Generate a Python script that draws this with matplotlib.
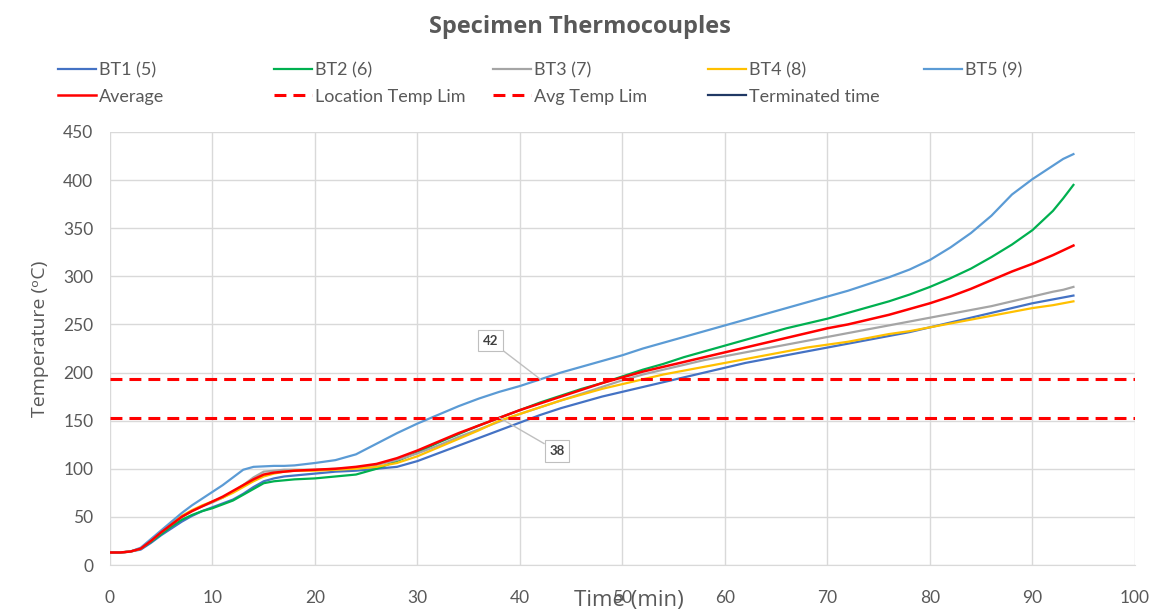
import numpy as np
import matplotlib.pyplot as plt

plt.rcParams['font.family'] = ['Lato', 'DejaVu Sans']

# time in minutes
t = [0, 1, 2, 3, 4, 5, 6, 7, 8, 9, 10, 11, 12, 13, 14, 15, 16, 17, 18,
     20, 22, 24, 26, 28, 30, 32, 34, 36, 38, 40, 42, 44, 46, 48, 50, 52, 54, 56, 58,
     60, 62, 64, 66, 68, 70, 72, 74, 76, 78, 80, 82, 84, 86, 88, 90, 92, 93, 94]

bt1 = [13, 13, 14, 16, 23, 31, 38, 45, 51, 56, 60, 64, 68, 74, 81, 87, 90, 92, 93,
       95, 97, 98, 100, 102, 108, 116, 124, 132, 140, 148, 156, 163, 169, 175, 180,
       185, 190, 195, 200, 205, 210, 214, 218, 222, 226, 230, 234, 238, 242, 247,
       252, 257, 262, 267, 272, 276, 278, 280]
bt2 = [13, 13, 14, 17, 24, 32, 40, 47, 52, 56, 59, 63, 67, 73, 79, 85, 87, 88, 89,
       90, 92, 94, 100, 108, 117, 127, 136, 145, 153, 161, 169, 176, 183, 189, 196,
       203, 209, 216, 222, 228, 234, 240, 246, 251, 256, 262, 268, 274, 281, 289,
       298, 308, 320, 333, 348, 368, 381, 395]
bt3 = [13, 13, 14, 17, 25, 34, 42, 50, 56, 61, 65, 70, 76, 83, 91, 97, 98, 99, 99,
       99, 100, 101, 104, 109, 116, 124, 133, 141, 149, 157, 164, 171, 178, 185, 192,
       198, 203, 208, 213, 217, 221, 225, 229, 233, 237, 241, 245, 249, 253, 257,
       261, 265, 269, 274, 279, 284, 286, 289]
bt4 = [13, 13, 14, 17, 26, 35, 43, 51, 57, 62, 66, 70, 75, 81, 87, 92, 95, 97, 98,
       98, 99, 100, 102, 106, 113, 122, 131, 140, 150, 157, 164, 171, 177, 183, 188,
       193, 198, 202, 206, 210, 214, 218, 222, 226, 229, 232, 236, 240, 243, 247,
       251, 255, 259, 263, 267, 270, 272, 274]
bt5 = [13, 13, 14, 18, 27, 36, 45, 54, 62, 69, 76, 83, 91, 99, 102, 102.5, 103, 103, 103.5,
       106, 109, 115, 126, 137, 147, 156, 165, 173, 180, 186, 193, 200, 206, 212, 218,
       225, 231, 237, 243, 249, 255, 261, 267, 273, 279, 285, 292, 299, 307, 317,
       330, 345, 363, 385, 401, 415, 422, 427]
avg = [13, 13, 14, 17, 25, 34, 42, 50, 56, 61, 66, 71, 77, 83, 89, 94, 96, 97, 98,
       99, 100, 102, 105, 111, 119, 128, 137, 145, 153, 161, 168, 175, 182, 189, 195,
       201, 206, 211, 216, 221, 226, 231, 236, 241, 246, 250, 255, 260, 266, 272,
       279, 287, 296, 305, 313, 322, 327, 332]

loc_lim = 193
avg_lim = 153
loc_cross = 42
avg_cross = 38

fig = plt.figure(figsize=(11.6, 6.15), dpi=100)
ax = fig.add_axes([0.0948, 0.0813, 0.8836, 0.7041])

h1, = ax.plot(t, bt1, color='#4472C4', lw=1.6, label='BT1 (5)')
h2, = ax.plot(t, bt2, color='#00B050', lw=1.6, label='BT2 (6)')
h3, = ax.plot(t, bt3, color='#A5A5A5', lw=1.6, label='BT3 (7)')
h4, = ax.plot(t, bt4, color='#FFC000', lw=1.6, label='BT4 (8)')
h5, = ax.plot(t, bt5, color='#5B9BD5', lw=1.6, label='BT5 (9)')
ha, = ax.plot(t, avg, color='#FF0000', lw=1.8, label='Average')
hl, = ax.plot([0, 100], [loc_lim, loc_lim], color='#FF0000', lw=2.2,
              dashes=(3.9, 2.3), label='Location Temp Lim')
hg, = ax.plot([0, 100], [avg_lim, avg_lim], color='#FF0000', lw=2.2,
              dashes=(3.9, 2.3), label='Avg Temp Lim')
ht, = ax.plot([], [], color='#203864', lw=1.6, label='Terminated time')

box = dict(boxstyle='square,pad=0.35', fc='white', ec='#BFBFBF', lw=0.8)
arr = dict(arrowstyle='-', color='#BFBFBF', lw=1.0, shrinkA=0, shrinkB=0)
ax.annotate(str(loc_cross), xy=(loc_cross, loc_lim), xytext=(37.1, 233),
            ha='center', va='center', fontsize=9.5, fontweight='bold',
            color='#404040', bbox=box, arrowprops=arr)
ax.annotate(str(avg_cross), xy=(avg_cross, avg_lim), xytext=(43.6, 118.5),
            ha='center', va='center', fontsize=9.5, fontweight='bold',
            color='#404040', bbox=box, arrowprops=arr)

ax.set_xlim(0, 100)
ax.set_ylim(0, 450)
ax.set_xticks(range(0, 101, 10))
ax.set_yticks(range(0, 451, 50))
ax.grid(True, color='#D9D9D9', lw=1.0)
ax.set_axisbelow(True)
for s in ['top', 'right', 'left']:
    ax.spines[s].set_visible(False)
ax.spines['bottom'].set_color('#D9D9D9')
ax.tick_params(axis='both', length=0, labelsize=12.5, labelcolor='#595959')
ax.tick_params(axis='x', pad=18)
ax.tick_params(axis='y', pad=12)

ax.set_xlabel('Time (min)', fontsize=16, color='#595959', family='Open Sans')
ax.set_ylabel('Temperature (ᵒC)', fontsize=14, color='#595959',
              family=['Open Sans', 'DejaVu Sans'])
ax.xaxis.set_label_coords(0.506, -0.083)
ax.yaxis.set_label_coords(-0.068, 0.522)
ax.xaxis.label.set_va('center')
ax.yaxis.label.set_va('center')

fig.suptitle('Specimen Thermocouples', x=0.5, y=0.975, fontsize=17,
             fontweight='bold', color='#595959', family='Open Sans')

# legend laid out in a grid: one legend per column
columns = [[h1, ha], [h2, hl], [h3, hg], [h4, ht], [h5]]
col_x = [58, 274, 493, 708, 924]
for hs, x in zip(columns, col_x):
    leg = fig.legend(handles=hs, labels=[h.get_label() for h in hs],
                     loc='upper left', bbox_to_anchor=(x / 1160, 0.899),
                     frameon=False, fontsize=13, handlelength=2.1,
                     handletextpad=0.15, labelspacing=0.58,
                     borderpad=0, borderaxespad=0)
    for txt in leg.get_texts():
        txt.set_color('#595959')

fig.savefig('out.png', dpi=100)
